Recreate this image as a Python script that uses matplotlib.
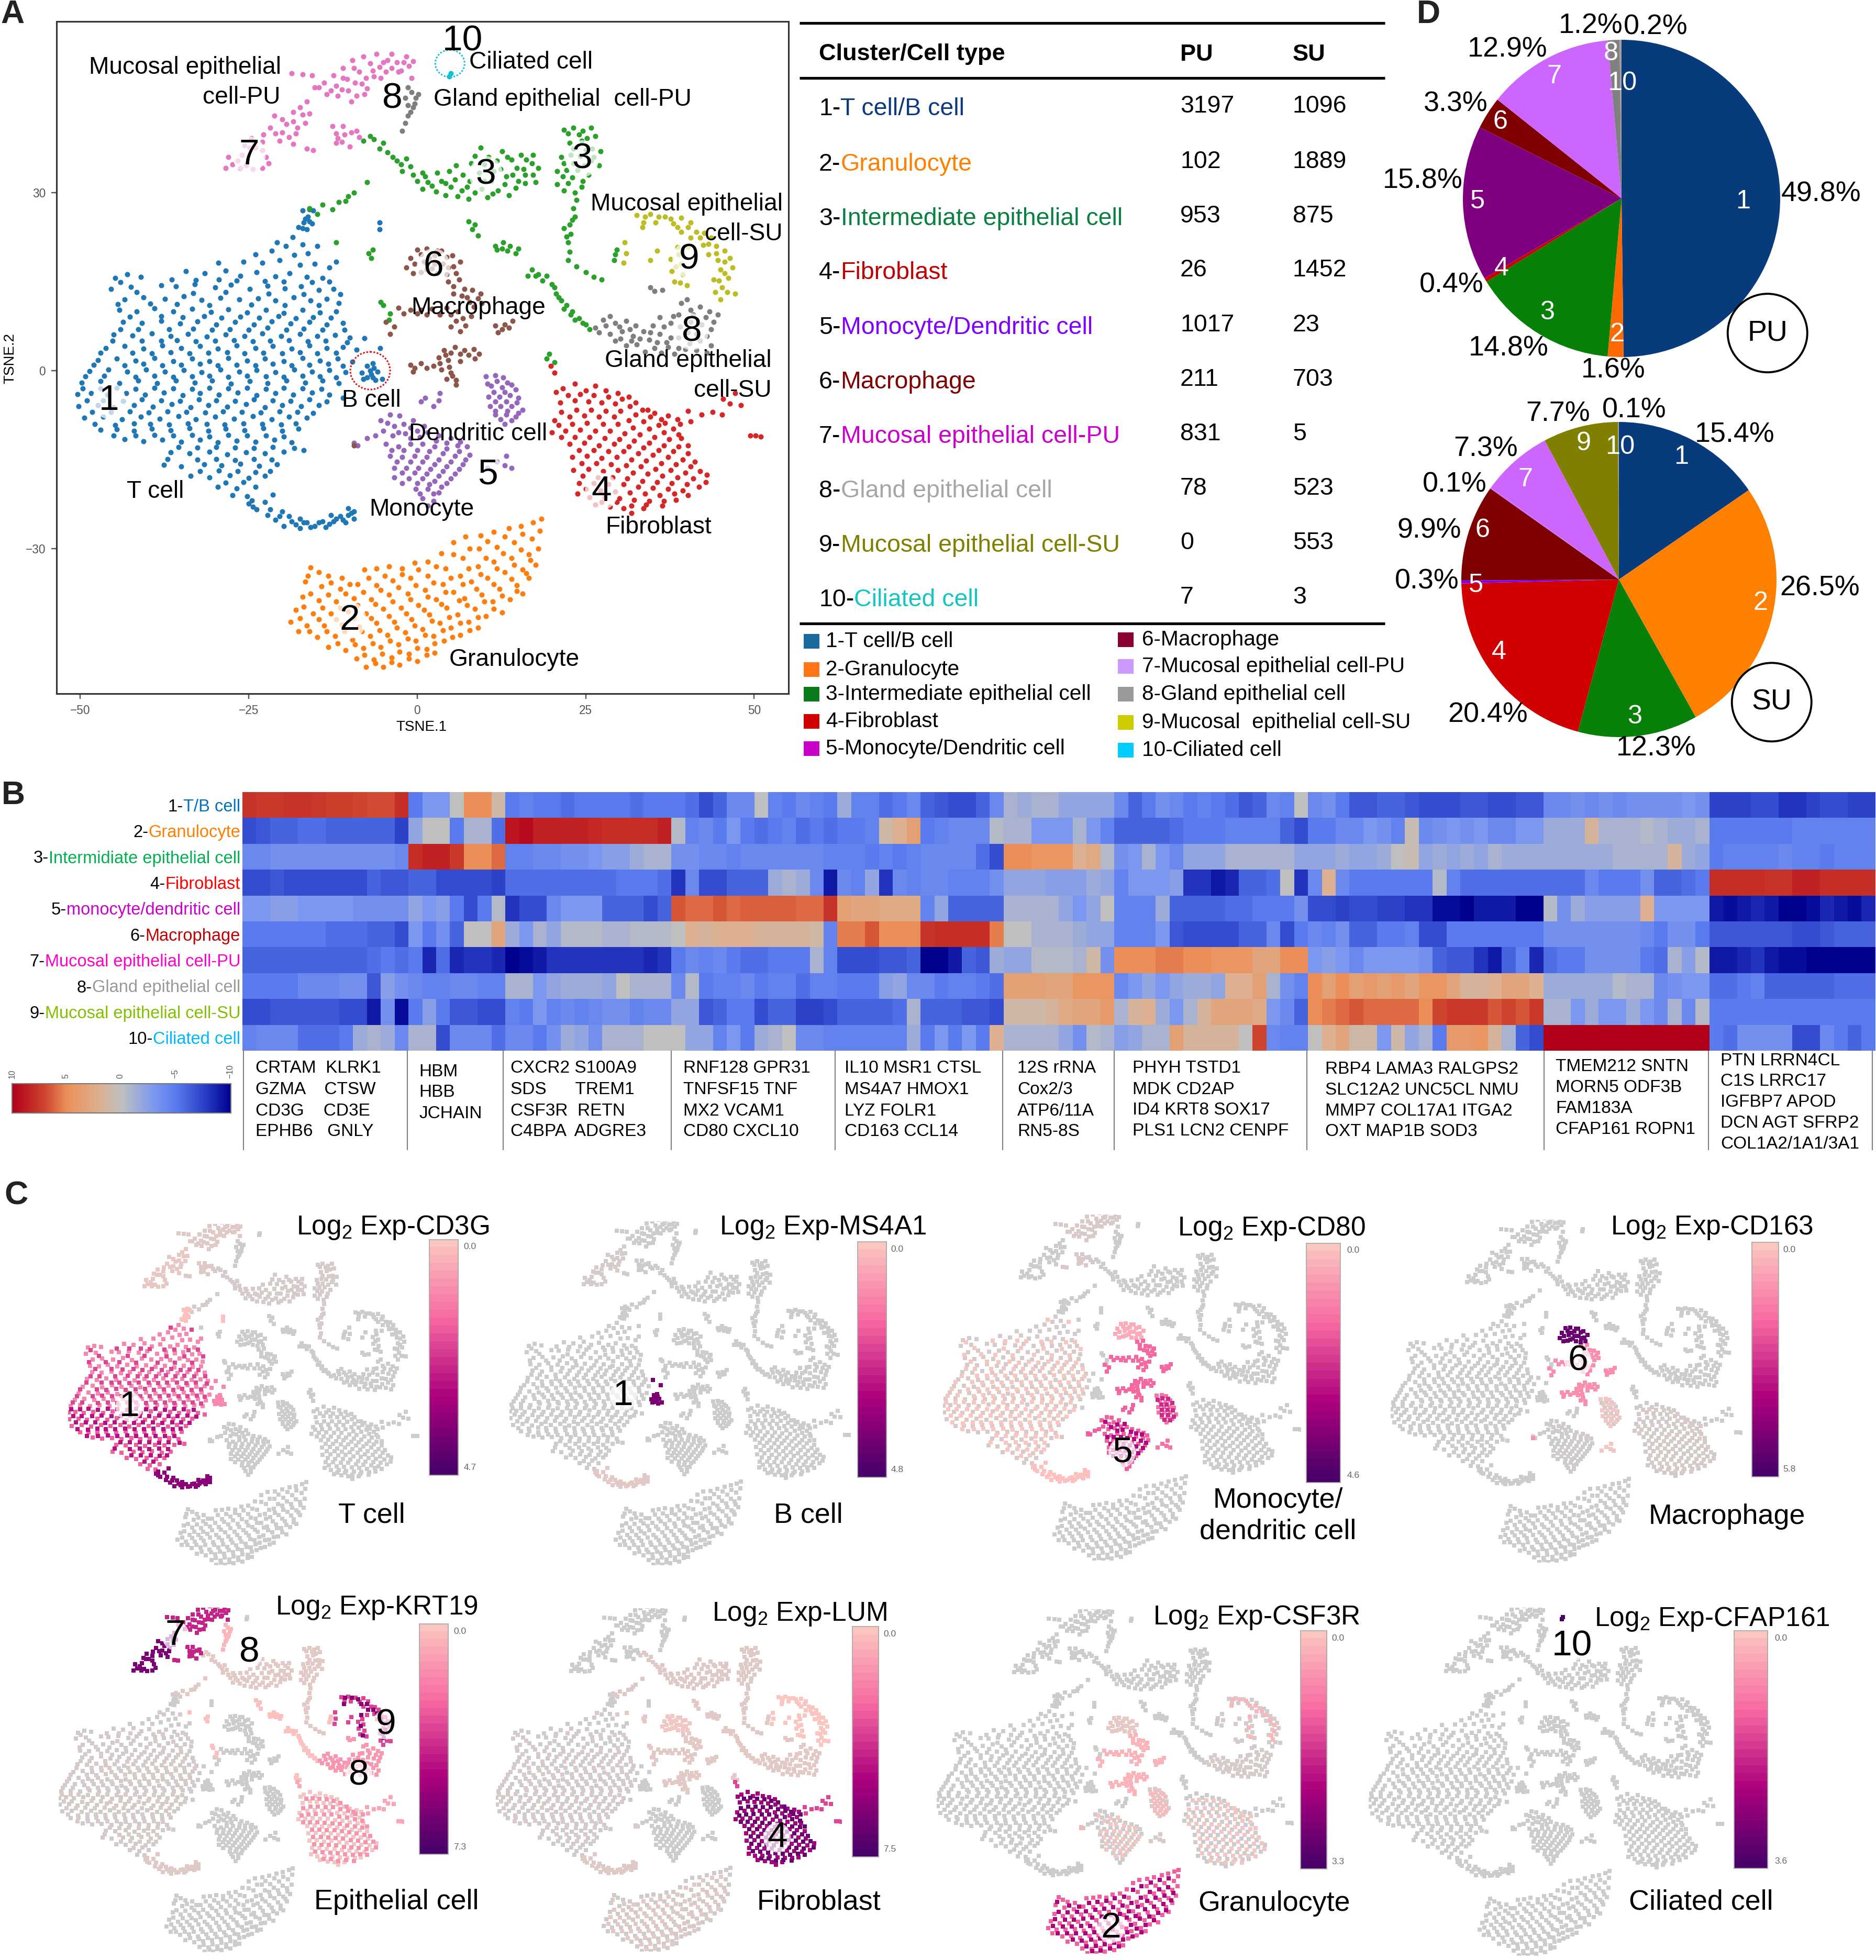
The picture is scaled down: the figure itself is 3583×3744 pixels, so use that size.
#!/usr/bin/env python
"""Single-cell atlas figure: t-SNE map, cell table, pies, marker heatmap, marker maps."""

import matplotlib

matplotlib.use("Agg")
import matplotlib.pyplot as plt
import numpy as np
from matplotlib.colors import LinearSegmentedColormap
from matplotlib.patches import Ellipse, Rectangle

plt.rcParams["font.family"] = ["Liberation Sans", "DejaVu Sans"]
plt.rcParams["mathtext.default"] = "regular"

W, H = 3583, 3744

# t-SNE points, one list per region
T_UPPER = [
    (-18.5, 22.5), (-19.5, 21), (-17, 21.3), (-21.6, 20.2), (-16.2, 19.8), (-18.2, 19.5), (-24, 19.6),
    (-29.5, 18.2), (-25.8, 18.4), (-23, 18.2), (-20.4, 18.6), (-17.4, 17.8), (-15.2, 18), (-13, 17.4), (-12, 18.4),
    (-44.8, 15.6), (-43, 16.2), (-41, 15.8), (-34.3, 16.8), (-31.5, 16.4), (-28.4, 16.9), (-26.2, 16), (-23.8, 16.6),
    (-21, 15.9), (-18.9, 16.4), (-16.4, 15.8), (-14, 15.6), (-45.4, 13.8), (-42.5, 14.1), (-38, 14.4), (-35.8, 14.2),
    (-33, 14.6), (-30, 14), (-27.6, 14.5), (-24.8, 13.8), (-22.2, 14.3), (-19.6, 13.9), (-17.2, 14.2), (-14.6, 13.6),
    (-12.4, 13.8), (-43.4, 12), (-40.6, 12.4), (-37.4, 12.1), (-34.6, 12.5), (-32, 11.9), (-29.2, 12.3), (-26.4, 12),
    (-23.6, 12.2), (-21, 11.8), (-18.3, 12.4), (-15.8, 11.8), (-13.4, 12.1), (-11.6, 11.4), (-44.2, 10.2), (-41.6, 10),
    (-39, 10.5), (-36.2, 10), (-33.4, 10.4), (-30.6, 9.9), (-28, 10.3), (-25.2, 9.8), (-22.4, 10.2), (-19.8, 9.7),
    (-17, 10.2), (-14.4, 9.8), (-12, 10), (-43.6, 8.2), (-40.8, 8), (-38, 8.4), (-35.2, 7.9), (-32.6, 8.3),
    (-29.8, 7.8), (-27, 8.2), (-24.2, 7.8), (-21.6, 8.3), (-18.8, 7.9), (-16, 8.2), (-13.4, 7.8), (-11, 8),
    (-45, 6.1), (-42.2, 5.9), (-39.4, 6.3), (-36.6, 5.8), (-34, 6.2), (-31.2, 5.7), (-28.4, 6.1), (-25.6, 5.8),
    (-23, 6.3), (-20.2, 5.8), (-17.4, 6.2), (-14.8, 5.8), (-12.2, 6), (-10, 5.6), (-46.2, 3.8), (-43.4, 4.1),
    (-40.6, 3.7), (-37.8, 4.2), (-35, 3.8), (-32.2, 4.1), (-29.6, 3.7), (-26.8, 4.2), (-24, 3.8), (-21.4, 4.1),
    (-18.6, 3.7), (-16, 4.2), (-13.4, 3.8), (-11, 4), (-9, 3.5), (-47.4, 1.8), (-44.6, 2), (-41.8, 1.7),
    (-39, 2.1), (-36.2, 1.6), (-33.4, 2), (-30.8, 1.6), (-28, 2.1), (-25.2, 1.7), (-22.6, 2), (-19.8, 1.6),
    (-17, 2.1), (-14.4, 1.7), (-11.8, 2), (-9.6, 1.5), (-48.6, -0.1), (-45.8, 0.2), (-43, -0.2), (-40.2, 0.2),
    (-37.4, -0.2), (-34.6, 0.1), (-32, -0.3), (-29.2, 0.2), (-26.4, -0.2), (-23.8, 0.1), (-21, -0.3), (-18.2, 0.2),
    (-15.6, -0.2), (-13, 0.1), (-10.6, -0.3), (-49.8, -2), (-47, -1.8), (-44.2, -2.1), (-41.4, -1.7), (-38.6, -2.1),
    (-35.8, -1.7), (-33, -2), (-30.4, -1.7), (-27.6, -2.2), (-24.8, -1.8), (-22.2, -2.1), (-19.4, -1.7), (-16.6, -2),
    (-14, -1.7), (-11.6, -2.1),
]
T_UPPER_FILL = [
    (-20.8, 21.6), (-14.8, 21), (-44, 14.9), (-41.6, 13.2), (-36.4, 15.4), (-32.8, 15.3), (-29.4, 15.4), (-26.8, 15.2),
    (-22.6, 15.1), (-19.8, 15), (-15.6, 14.9), (-13, 15), (-44.4, 11.2), (-39.6, 11.3), (-35.6, 11.2), (-33.2, 13.1),
    (-30.8, 11), (-28.4, 13.2), (-24.6, 11.1), (-22, 13), (-19.6, 11), (-16.8, 12.9), (-14.6, 11), (-11.4, 12.9),
    (-42.6, 9.1), (-38, 9.2), (-34.8, 9), (-31.6, 9.2), (-29, 8.9), (-26.2, 9.1), (-23.4, 8.9), (-20.6, 9.2), (-18, 8.8),
    (-15.4, 9), (-12.8, 8.9), (-44, 7), (-41.4, 7), (-36.8, 7), (-33.2, 7.1), (-30.4, 6.9), (-27.8, 7), (-25, 6.9),
    (-22.2, 7.2), (-19.4, 6.9), (-16.8, 7.1), (-14, 6.9), (-10.8, 6.9), (-45.2, 5), (-40.8, 5), (-38, 5), (-35.6, 5.1),
    (-32.8, 4.9), (-30, 5), (-27.2, 5.1), (-24.4, 4.9), (-21.8, 5), (-19, 5.1), (-16.2, 4.9), (-13.6, 5), (-10.4, 4.8),
    (-47, 3), (-42.2, 3), (-39.4, 2.9), (-36.6, 3.1), (-33.8, 2.9), (-31, 3), (-28.2, 3.1), (-25.6, 2.9), (-22.8, 3),
    (-20, 2.9), (-17.4, 3.1), (-14.8, 2.9), (-12, 3), (-48, 1), (-43.4, 0.9), (-40.6, 1.1), (-37.8, 0.9), (-35, 1),
    (-32.2, 1.1), (-29.6, 0.9), (-26.8, 1), (-24, 0.9), (-21.4, 1.1), (-18.6, 0.9), (-16, 1), (-13.2, 1.1), (-11, 0.8),
    (-49.2, -1), (-46.4, -0.9), (-41.8, -1.1), (-39, -0.9), (-36.2, -1.1), (-33.4, -1), (-30.8, -0.9), (-28, -1.1),
    (-25.2, -0.9), (-22.4, -1), (-19.8, -1.1), (-17, -0.9), (-14.4, -1), (-12, -1.2),
]
T_LOWER = [
    (-50.4, -4), (-48.4, -3.8), (-46, -4.1), (-43.2, -3.8), (-40.4, -4.1), (-37.6, -3.7), (-34.8, -4.2), (-32.2, -3.8),
    (-29.4, -4.1), (-26.6, -3.7), (-23.8, -4.2), (-21, -3.8), (-18.4, -4.1), (-15.6, -3.7), (-13, -4.1), (-11, -4.6),
    (-50.2, -6), (-47.4, -5.8), (-45, -6.2), (-42, -5.8), (-39.2, -6.1), (-36.4, -5.7), (-33.6, -6.2), (-31, -5.8),
    (-28.2, -6.1), (-25.4, -5.7), (-22.6, -6.2), (-20, -5.8), (-17.2, -6), (-14.6, -5.8), (-49.4, -8), (-46.6, -7.8),
    (-43.8, -8.2), (-41, -7.8), (-38.2, -8.1), (-35.4, -7.7), (-32.8, -8.2), (-30, -7.8), (-27.2, -8.1), (-24.4, -7.7),
    (-21.6, -8.2), (-19, -7.8), (-16.4, -8), (-47, -10), (-44.6, -9.9), (-42, -10.2), (-39.4, -9.8), (-36.6, -10.1),
    (-33.8, -9.7), (-31, -10.2), (-28.4, -9.8), (-25.6, -10.1), (-22.8, -9.7), (-20, -10.2), (-17.6, -9.8), (-43.4, -11.6),
    (-40.6, -11.9), (-37.8, -11.7), (-35, -12), (-32.2, -11.7), (-29.6, -12.1), (-26.8, -11.8), (-24, -12), (-21.2, -11.7),
    (-18.6, -12.1), (-36.6, -13.8), (-33.8, -14), (-30.8, -13.7), (-28.2, -14.1), (-25.4, -13.8), (-22.6, -14), (-19.8, -13.7),
    (-16.8, -13.4), (-37.6, -15.9), (-35, -16.2), (-31.6, -15.8), (-29, -16), (-26.2, -15.7), (-23.4, -16.1), (-20.8, -15.8),
    (-33.6, -17.8), (-30.8, -18), (-27.8, -17.7), (-25, -18.1), (-22.6, -17.8), (-29.6, -19.6), (-26.8, -19.9), (-24, -19.6),
    (-27.4, -21), (-25.2, -21.2),
]
T_LOWER_FILL = [
    (-49.6, -3), (-47, -3), (-44.6, -2.9), (-41.8, -3.1), (-39, -2.9), (-36.2, -3), (-33.4, -3.1), (-30.8, -2.9), (-28, -3),
    (-25.2, -2.9), (-22.4, -3.1), (-19.8, -2.9), (-17, -3), (-14.2, -3.1), (-49, -5), (-46.6, -5), (-43.6, -5.1), (-40.8, -4.9),
    (-38, -5), (-35.2, -5.1), (-32.4, -4.9), (-29.8, -5), (-27, -5.1), (-24.2, -4.9), (-21.4, -5), (-18.8, -5.1), (-16, -4.9),
    (-13.4, -5.2), (-48.2, -7), (-45.4, -7), (-42.6, -6.9), (-39.8, -7.1), (-37, -6.9), (-34.2, -7), (-31.4, -7.1), (-28.8, -6.9),
    (-26, -7), (-23.2, -7.1), (-20.4, -6.9), (-17.8, -7), (-15.4, -7.2), (-47.8, -9), (-44.8, -9.2), (-42, -8.9), (-39.6, -9),
    (-36.8, -9.1), (-34, -8.9), (-31.2, -9), (-28.6, -9.1), (-25.8, -8.9), (-23, -9), (-20.2, -9.1), (-18, -8.9), (-45, -11),
    (-41.8, -11), (-39, -10.9), (-36.2, -11), (-33.4, -10.9), (-30.8, -11.1), (-28, -10.9), (-25.2, -11), (-22.4, -11),
    (-19.8, -11.1), (-35.4, -12.9), (-32.6, -13), (-29.8, -12.9), (-27, -13), (-24.2, -13.1), (-21.4, -12.9), (-18.2, -13.1),
    (-37, -14.9), (-32.6, -15), (-29.8, -14.9), (-27, -15.1), (-24.2, -14.9), (-21.6, -15), (-32.2, -17), (-29.4, -16.9),
    (-26.6, -17), (-24, -17.1), (-21.8, -17), (-28.4, -18.9), (-25.8, -18.8),
]
T_TAIL = [
    (-25, -22.4), (-23.8, -23.4), (-22.6, -22.2), (-22.2, -24.4), (-21, -25.2), (-20, -23.8), (-19.8, -26.2), (-18.6, -25.4),
    (-17.4, -26.6), (-16.4, -25.6), (-15.2, -26.2), (-14, -25.4), (-13, -25.9), (-12, -25), (-11, -25.2), (-10.2, -24.4),
    (-9.4, -23.8), (-9.4, -25), (-17.4, -25), (-12.8, -24.4), (-24.5, -21.9), (-21.4, -20.9), (-24.4, -23), (-21.8, -23.4),
    (-20.4, -24.6), (-19, -24.6), (-18, -26), (-16.8, -25.6), (-15.8, -26.4), (-14.6, -25.6), (-13.6, -26.4), (-12.4, -25.4),
    (-11.4, -24.6), (-10.6, -25.6), (-9.8, -24), (-10.2, -23.2),
]
T_TOP = [
    (-17, 27), (-16.2, 26), (-15.4, 27), (-16.8, 25), (-17.6, 24.2), (-15.6, 24.8), (-16.4, 23.8), (-5.6, 25), (-5.6, 23.8),
    (-16.6, 25.6), (-16, 25.2), (-17, 24), (-16, 27.2),
]
B_CELL = [
    (-8.2, -0.4), (-7.4, 0.8), (-6.6, 1.2), (-6.8, -0.6), (-5.9, -0.2), (-7.4, -1.2), (-6.2, -1.6), (-5.2, -1.4), (-8, -1.4),
    (-5.5, 3.8), (-7.8, 5.5), (-7, 0), (-6.4, 0.4), (-6.6, -1.2),
]
GRAN = [
    (-15.8, -33.2), (-14.6, -34), (-13.2, -34.6), (-11.2, -35), (-7.8, -33.6), (-6, -33.4), (-4.2, -33), (-2.2, -33.4),
    (-0.4, -32.4), (1.6, -32.2), (3.6, -30.8), (5.4, -29), (7.2, -28), (9.4, -27.8), (11.4, -27.2), (13.6, -26.6),
    (15.4, -26.2), (17.2, -25.6), (18.4, -25), (-16.6, -35.6), (-14.2, -36.4), (-11.4, -36.8), (-8.8, -36), (-6, -36.2),
    (-3.6, -35.4), (-1, -35), (1.6, -34.6), (4.2, -33.4), (6.8, -31.6), (9.2, -30), (11.8, -29.8), (14.4, -29),
    (17, -28.4), (18.2, -27), (-17, -38.2), (-14.6, -38.8), (-12, -39), (-9.4, -38.4), (-6.8, -38.6), (-4.2, -37.8),
    (-1.4, -37.6), (1.2, -37), (3.8, -36), (6.4, -34.6), (9, -33), (11.4, -32.2), (14, -31.6), (16.6, -31),
    (18, -30), (-18, -40.4), (-15.4, -41), (-12.8, -41), (-10.2, -40.6), (-7.6, -41), (-5, -40.2), (-2.4, -40),
    (0.2, -39.6), (2.8, -38.6), (5.4, -37.4), (8, -35.6), (10.4, -35), (13, -34), (15.6, -33.6), (17.6, -32.8),
    (-18.8, -42.4), (-16.4, -43), (-13.8, -43), (-11.2, -42.8), (-8.6, -43.2), (-6, -42.6), (-3.4, -42.4), (-0.8, -42),
    (1.8, -41.2), (4.4, -40), (7, -38.4), (9.6, -37.8), (12.2, -36.8), (14.8, -36.2), (16.6, -35), (-17.6, -44),
    (-14.8, -45), (-12.2, -44.8), (-9.6, -45.4), (-7, -44.8), (-4.4, -44.6), (-1.8, -44.2), (0.8, -43.6), (3.4, -42.6),
    (6, -41.2), (8.6, -40.2), (11.2, -39), (13.8, -38.6), (15.6, -37.6), (-13.2, -46.6), (-10.6, -47.2), (-8, -46.8),
    (-5.4, -46.6), (-2.8, -46.2), (-0.2, -45.6), (2.4, -44.8), (5, -43.4), (7.6, -42.4), (10.2, -41.4), (12.6, -40.8),
    (-9, -48.6), (-6.4, -48.8), (-3.8, -48.4), (-1.2, -47.8), (1.4, -47), (4, -45.6), (6.4, -44.6), (9, -43.4),
    (-7.6, -50), (-5, -50), (-2.6, -49.6), (0, -49), (2.6, -47.6),
]
GRAN_FILL = [
    (-16.2, -34.6), (-12.8, -35.8), (-10, -36), (-7.2, -35), (-4.8, -34.6), (-2.2, -34.4), (0.2, -33.6), (2.8, -33), (5.4, -31),
    (7.8, -30), (10.4, -28.8), (13, -28), (15.6, -27.6), (-15.8, -37.6), (-13.2, -37.8), (-10.6, -37.6), (-8, -37.4), (-5.4, -37),
    (-2.8, -36.6), (-0.2, -36.2), (2.4, -35.8), (5, -35), (7.6, -33.4), (10.2, -31.6), (12.8, -30.8), (15.4, -30.2),
    (-16.8, -39.8), (-14, -40), (-11.4, -40), (-8.8, -39.6), (-6.2, -39.4), (-3.6, -39), (-1, -38.6), (1.6, -38.2), (4.2, -37.4),
    (6.8, -36), (9.4, -34.4), (11.8, -33.4), (14.4, -32.8), (16.8, -32), (-17.4, -41.8), (-14.6, -42), (-12, -42), (-9.4, -41.8),
    (-6.8, -41.8), (-4.2, -41.4), (-1.6, -41), (1, -40.4), (3.6, -39.4), (6.2, -38.8), (8.8, -36.8), (11.4, -36), (14, -35.2),
    (16.2, -34.2), (-16, -44), (-13.4, -44), (-10.8, -44), (-8.2, -44), (-5.6, -43.8), (-3, -43.4), (-0.4, -43), (2.2, -42.2),
    (4.8, -41.6), (7.4, -39.6), (10, -39), (12.6, -38), (14.8, -37.2), (-11.8, -46), (-9.2, -46.2), (-6.6, -46), (-4, -45.6),
    (-1.4, -45.2), (1.2, -44.6), (3.8, -43.8), (6.4, -42.6), (9, -41.6), (11.4, -40.2), (-7.8, -48), (-5.2, -47.8), (-2.6, -47.4),
    (0, -46.8), (2.6, -46), (5.2, -45), (7.8, -43.8), (-6.2, -49.4), (-3.8, -49.2), (-1.2, -48.6), (1.4, -48),
]
INTER_MAIN = [
    (-8, 38.8), (-6.4, 39), (-5, 38.4), (-4.4, 36.8), (-3, 35.4), (-1.6, 35.8), (-2.2, 33.6), (-0.6, 33), (0.8, 33.4),
    (1.6, 31.8), (0.8, 30.6), (2.8, 30.2), (3.6, 32), (4.8, 33.6), (5, 31), (6, 29.4), (6.8, 33), (7.4, 31), (7.6, 29),
    (8, 35), (9.2, 33.4), (9.6, 30.6), (9.4, 37.6), (10.6, 36), (11, 32), (11.2, 29.8), (12.4, 34), (12.6, 37), (13, 31.4),
    (14, 35.6), (14.2, 33), (14.6, 30.8), (15.4, 36.4), (15.8, 34), (16, 31.6), (17, 35), (17.2, 33), (-7.4, 31.8),
    (-16, 27.4), (-14.8, 26.4), (-14, 28), (-12.6, 27.2), (-11.6, 28.4), (-10.6, 28.6), (-10.2, 29.4), (-9.4, 30),
    (21.8, 40.6), (23.2, 41), (24.6, 40.4), (25.8, 41), (26.4, 39.6), (22.6, 38.4), (24.4, 38.8), (26, 37.4), (27.2, 37),
    (21.4, 36), (22.8, 36.4), (24.2, 36.2), (25.8, 35.4), (27, 34.6), (20.8, 33.6), (22.2, 33.8), (23.8, 33.8), (25.4, 33),
    (20.8, 31.4), (22.4, 31.6), (24.4, 31), (23.6, 28.8), (23.2, 27.4), (23.4, 26), (22.6, 24.6), (22.8, 23),
    (21.8, 24), (22.4, 21.6), (22.6, 20), (22.4, 18.6), (23.6, 17.6), (25, 16.6), (26.2, 15.8), (27.4, 15.4),
    (-7, 39.6), (-5.6, 37.4), (-3.6, 36), (-2.4, 34.8), (-1, 34.4), (0, 32), (1.2, 32.8), (2.2, 31.2), (3, 33.4), (4.2, 31.6),
    (4.2, 29.6), (5.6, 32.2), (5.8, 34.6), (6.6, 30.4), (7.8, 32), (8.6, 30), (8.6, 36.2), (10, 34.8), (10, 32), (10.4, 29.2),
    (11.4, 33.6), (11.8, 35.4), (12, 30.4), (13.2, 32.8), (13.4, 36), (13.6, 29.6), (14.8, 34.2), (15, 32), (16, 33), (16.2, 35.6),
    (17.2, 36.4), (18, 34.2), (17.6, 31.8), (22.4, 40), (24, 39.8), (25.2, 39.2), (23.2, 37.4), (25, 37.2), (21.8, 35), (23.2, 35),
    (24.8, 34.6), (26.2, 36), (21.6, 32.8), (23, 32.6), (24.6, 32), (21.8, 30.4), (23.4, 30), (23, 25.4), (22.2, 22.6),
]
INTER_LOW = [
    (7.6, 25.2), (8.2, 23.8), (9, 22.8), (11.6, 21), (12.6, 20.6), (13.4, 20.2), (14.6, 19.8), (12.8, 21.6),
    (17, 17), (16.4, 16), (18, 16.2), (19.2, 16), (20, 14.6), (20.6, 13), (21.4, 11.8), (21.8, 10.4), (23, 10),
    (23.4, 8.6), (24.6, 8), (25.6, 7), (19.6, 2.8), (19.2, 2), (20.4, 1.4), (29.6, 20.4), (29.2, 18.6), (29.4, 19.6),
    (-6.6, 20.4), (-6.8, 19), (-7.2, 19.8), (-12, 21.6), (-5, 11), (-4, 9.6), (-4.2, 8.6), (-5.4, 11.6),
    (8.6, 24.6), (11.8, 20.4), (13.8, 21), (15, 20.6), (17.6, 16), (18.6, 15.2), (20.4, 14), (21, 12.4), (22.2, 11), (22.8, 9.4),
    (24, 8.8), (25, 7.8),
]
FIBRO = [
    (20.6, -3.6), (21.6, -3), (23.4, -2.2), (25, -3.4), (26.4, -2.6), (28, -3.4), (29.8, -3.8), (31.4, -4.4), (21.2, -5.4),
    (23.4, -5), (25.4, -5.2), (27.4, -5.4), (29.4, -5.6), (31.6, -6), (33.4, -6.6), (35.2, -7.2), (37.2, -7.6), (38.6, -8.2),
    (20.4, -8.4), (22.6, -7.8), (24.8, -7.6), (27, -7.8), (29.2, -7.8), (31.4, -8.4), (33.6, -8.6), (35.8, -9.2), (38, -9.8),
    (20, -10.4), (22, -10.2), (24.2, -10), (26.4, -10.2), (28.6, -10.2), (30.8, -10.6), (33, -10.8), (35.2, -11.2), (37.4, -11.6),
    (39.2, -11.4), (22.6, -12.4), (24.8, -12.2), (27, -12.6), (29.2, -12.4), (31.4, -12.8), (33.6, -13), (35.8, -13.4), (38, -13.6),
    (40.2, -14), (23, -14.6), (25.2, -14.4), (27.4, -14.8), (29.6, -14.6), (31.8, -15), (34, -15.2), (36.2, -15.6), (38.4, -15.8),
    (40.6, -16.2), (23.2, -16.8), (25.4, -16.6), (27.6, -17), (29.8, -16.8), (32, -17.2), (34.2, -17.4), (36.4, -17.8), (38.6, -18),
    (41, -18.2), (43, -17.6), (24, -19), (26.2, -19), (28.4, -19.2), (30.6, -19.2), (32.8, -19.6), (35, -19.8), (37.2, -20),
    (39.4, -20.2), (41.8, -19.6), (23.8, -20.8), (25.6, -21.4), (27.8, -21.4), (30, -21.6), (32.2, -21.8), (34.4, -22), (36.6, -22),
    (38.4, -21.8), (26.4, -22.6), (28.6, -23), (30.6, -23.2), (31.8, -24), (33.6, -23.2),
]
FIBRO_FILL = [
    (22.4, -4.2), (24.2, -4), (26.2, -4.2), (28.4, -4.4), (30.4, -4.8), (32.4, -5.4), (34.2, -6.6), (36.2, -8.2), (21.4, -7),
    (23.6, -6.6), (25.8, -6.6), (28, -6.8), (30.2, -6.8), (32.4, -7.4), (34.6, -7.8), (36.8, -8.8), (39, -9), (21, -9.2), (23, -9),
    (25.2, -8.8), (27.6, -9), (29.8, -9), (32, -9.6), (34.4, -9.8), (36.6, -10.4), (38.8, -10.8), (21.4, -11.2), (23.4, -11.2),
    (25.6, -11.2), (27.8, -11.4), (30, -11.6), (32.2, -11.8), (34.4, -12.2), (36.6, -12.6), (38.8, -12.8), (40.2, -12.6), (24, -13.4),
    (26.2, -13.4), (28.4, -13.6), (30.6, -13.6), (32.8, -14), (35, -14.2), (37.2, -14.6), (39.4, -15), (41.2, -15.4), (24.4, -15.6),
    (26.6, -15.6), (28.8, -15.8), (31, -16), (33.2, -16.2), (35.4, -16.6), (37.6, -16.8), (39.8, -17.2), (42, -17), (24.6, -17.8),
    (26.8, -18), (29, -18), (31.2, -18.2), (33.4, -18.6), (35.6, -18.8), (37.8, -19), (40, -19.2), (42.8, -18.8), (25, -20),
    (27.2, -20.2), (29.4, -20.4), (31.6, -20.6), (33.8, -20.8), (36, -21), (38.2, -20.8), (40.2, -21), (27.4, -22.2), (29.6, -22.2),
    (31.8, -22.8), (34, -22.6), (36.4, -22.8),
]
FIBRO_TAIL = [
    (19.8, 0.8), (20.4, -0.4), (40.2, -6.8), (40.6, -8.6), (42.2, -7.4), (43.8, -7), (45.4, -4.8), (46.4, -5.6), (45.2, -7.4),
    (47.2, -3.8), (48, -5.8), (49.4, -11), (50.2, -11), (51, -11.1),
]
MONO = [
    (-8.8, -12.6), (-9.4, -12.2), (-7.4, -11.4), (-6.2, -11), (-5, -10.2), (-5.4, -8.4), (-4, -7.4), (-2.6, -7.6), (-3.4, -9.4),
    (-2, -9), (-0.6, -8.4), (-3.6, -11), (-1.8, -10.6), (0, -10.2), (1.6, -10.4), (3.2, -11), (5, -11.4), (6.4, -12), (7.4, -12.8),
    (-4.6, -12.4), (-2.8, -12.8), (-1, -12.4), (0.8, -12.4), (2.6, -12.8), (4.4, -13.2), (6.2, -13.6), (7.8, -14.2), (-4, -14.4),
    (-2.2, -14.6), (-0.4, -14.4), (1.4, -14.6), (3.2, -15), (5, -15.4), (6.8, -15.8), (-3.4, -16.4), (-1.6, -16.4), (0.2, -16.4),
    (2, -16.6), (3.8, -17), (5.6, -17.4), (-3.4, -18), (-1.2, -18.2), (0.8, -18.2), (2.6, -18.6), (4.4, -19), (-0.2, -20), (1.6, -20),
    (3.2, -20.6), (0.8, -21.6), (2.4, -22), (1.6, -22.8), (3.4, -3.8), (3.2, -5), (2.4, -6), (1.2, -4.6), (0.6, -5.2),
]
MONO_FILL = [
    (-4.4, -8.8), (-2.8, -10.4), (-1, -9.6), (1, -9.4), (-3.8, -13.4), (-2, -13.4), (0, -13.4), (1.8, -13.6), (3.8, -14), (5.6, -14.4),
    (7.2, -15), (-3, -15.4), (-1, -15.4), (0.8, -15.4), (2.6, -15.8), (4.4, -16.2), (6.2, -16.6), (-2.2, -17.2), (-0.4, -17.2),
    (1.4, -17.4), (3.2, -17.8), (5, -18.2), (-2.2, -19), (0, -19), (1.8, -19.2), (3.6, -19.6), (0.4, -20.8), (2.4, -20.8), (2.8, -11.8),
    (0.4, -11.2), (-1, -11.4), (4.4, -12.2), (6, -12.6),
]
DC = [
    (10.2, -1), (11.6, -0.8), (12.8, -1.2), (11, -2.6), (12.6, -2.8), (14, -2.4), (10.6, -4.4), (12.2, -4.4), (13.8, -4.2),
    (15, -4.6), (10.8, -6), (12.4, -6), (14, -6), (15.6, -6.6), (11.6, -7.4), (13.2, -7.4), (14.6, -7.8), (13, -9),
    (10.4, -16.4), (11.8, -15.4), (13, -16), (14, -16.4), (13.2, -14.4),
]
DC_FILL = [
    (10.4, -2.2), (11.8, -1.8), (13.4, -2), (11.4, -3.6), (13, -3.6), (14.6, -3.2), (11.6, -5.2), (13.2, -5.2), (14.8, -5.4),
    (11.6, -6.8), (13.4, -6.8), (15, -7.2), (12.4, -8.2), (14, -8.4),
]
MAC_TOP = [
    (-1.6, 17.4), (-1, 19), (0, 20.4), (1, 18.4), (1.4, 20.6), (0.6, 16.6), (2.6, 19.4), (2.2, 17.2), (3.6, 20.2), (3.8, 18),
    (5.2, 19.4), (5.4, 17.6), (6.4, 18.4), (4.4, 16.2), (-0.4, 18), (0.6, 19.6), (1.8, 19), (2.6, 18), (3, 20.2), (4.4, 19.2),
    (4.6, 17.4), (1.4, 17), (3, 16.4), (5.8, 16.4), (-0.6, 16.4),
]
MAC_LOW = [
    (4.6, 15), (6.2, 15.4), (7, 13.8), (5.4, 13), (8.2, 13.6), (9.4, 13), (7.4, 12.4), (9.6, 11.4), (8.4, 10.8), (-2.8, 10.6),
    (-1, 10.2), (0.6, 10.2), (2.2, 10.4), (4.4, 10.6), (6, 10), (8, 9.2), (5.8, 8.4), (7.2, 7.6), (-4.6, 8.2), (-3.4, 7.4), (-4, 6.2),
    (11.6, 7.6), (13, 7.8), (14.2, 8.4), (12, 6.4), (4, 3.4), (5.6, 4), (7, 3.4), (8.4, 3.6), (3.2, 2.2), (4.6, 1.8), (6.4, 1.6),
    (8.6, 2), (9.2, 2.8), (-1, 1), (0.6, 1.2), (2.4, 0.8), (-0.6, -0.2), (3.6, 0.2), (5, -0.4), (4.4, -1.4), (5.8, -1.6), (5.8, -2.4),
    (-9.4, -12.6), (5.4, 14.2), (6.6, 12.6), (7.8, 11.6), (9, 12.2), (-2, 9.6), (0, 9.6), (1.4, 9.4), (3.4, 9.4), (5, 9.4), (6.8, 8.8),
    (5, 7.4), (6.4, 6.6), (12.6, 7), (13.6, 7.2), (5, 3), (6.4, 2.8), (7.6, 2.6), (4.2, 2.6), (-0.4, 0.4), (1.4, 0.4), (3.4, 1.2),
    (4.8, 0.6), (5.2, -0.9),
]
MUC_UP = [
    (-18.6, 50.2), (-17, 50), (-15.6, 49.8), (-15.2, 47.8), (-13.8, 48.6), (-13.4, 46.6), (-12.4, 49.8), (-12, 48), (-11.8, 46.4),
    (-11, 51), (-10.4, 49.2), (-10.2, 47.2), (-9.8, 45.4), (-9.6, 52.4), (-8.6, 50.4), (-8.2, 48.4), (-7.8, 46.6), (-8, 53), (-7, 51.8),
    (-6.4, 49.6), (-6, 53.4), (-5, 52), (-4.6, 50.4), (-3.8, 53.4), (-3, 52), (-2.4, 50.6), (-1.6, 53), (-1.2, 51.4), (-0.8, 49.4),
    (-0.6, 52.2), (-12, 38.4), (-12, 40), (-12.6, 41.2), (-11, 41.2), (-11.2, 38.6), (-9.8, 40.2), (-9, 40.4), (-8.6, 39.4), (-16.4, 37.4),
    (-15.4, 37.2), (-10, 37.8), (-14.6, 47.8), (-12.8, 47.2), (-11.2, 47.4), (-11, 49.4), (-9.2, 48.6), (-9, 46.4), (-9.4, 51),
    (-7.6, 49.4), (-7.4, 47.6), (-6.6, 50.6), (-5.6, 51.2), (-5.4, 49.4), (-4.4, 52.4), (-3.8, 51), (-2.8, 50.4), (-2, 52),
    (-10.8, 39.8), (-11.8, 39.2),
]
MUC_LOW = [
    (-16.4, 45.4), (-17.4, 44.4), (-16, 43.4), (-18.4, 43.6), (-16.6, 41.8), (-18.4, 42), (-20, 42.4), (-21.2, 43), (-21.8, 41),
    (-20, 40.2), (-18, 40), (-18.4, 38.2), (-20.4, 38.8), (-22.8, 39.8), (-24.6, 39.2), (-25.6, 38), (-24, 37.6), (-26, 36.4),
    (-28, 36), (-27.4, 34.8), (-28.4, 34.2), (-26.2, 34.2), (-24.4, 34), (-23, 34.2), (-22, 35), (-23, 37.2), (-17, 43.2),
    (-17.8, 41), (-19.4, 41.6), (-19, 39.4), (-21, 40), (-23, 38.6), (-24.8, 37.6), (-26.6, 35.4), (-22.4, 36), (-25.4, 34.6),
]
GLAND_PU = [
    (-1.4, 47.8), (-1.8, 46), (-0.8, 47), (-0.4, 45), (-1, 43.6), (-1.8, 41.8), (-2.2, 40.4), (0.2, 46.6), (-0.6, 44.4),
    (-1.4, 44.8), (-0.2, 46), (-1.4, 43),
]
GLAND_SU = [
    (26.4, 7.2), (27.6, 8.6), (28.6, 9.2), (29.4, 8), (31, 8.4), (32.4, 7.6), (27, 6.4), (28.6, 6.2), (30.4, 6.6), (32, 5.8),
    (33.6, 6.6), (35, 7.6), (36, 9), (38, 9.2), (39.2, 11.4), (40, 12), (40.6, 10.2), (42, 10.8), (43.4, 10), (44.6, 9.4),
    (29.4, 5), (31, 4.2), (32.6, 4.4), (34.4, 5.2), (36, 6.2), (37.6, 5.6), (39, 7.4), (40.6, 8.2), (42.2, 7.8), (43.6, 7),
    (33.8, 3.2), (35.2, 3.8), (37.2, 4), (38.8, 3.8), (40.4, 4.6), (42, 5), (43.6, 4.2), (34.6, 14), (35.2, 13.4), (36.4, 13.6),
    (28, 7.6), (30, 7.4), (31.6, 7), (33, 5.4), (34.6, 6.4), (36.6, 7.4), (37.6, 8), (38.8, 9.4), (41, 9.4), (42.8, 9), (44, 8.2),
    (30.2, 5.4), (31.8, 5), (35.6, 4.8), (37, 4.8), (38.8, 5.6), (40.2, 6.4), (41.4, 6.2), (43, 5.8), (36.2, 3), (38.2, 2.8),
    (39.8, 3.6), (41.4, 3.4), (43, 3),
]
MUC_SU = [
    (32.6, 26.2), (33.6, 25), (34.6, 26.4), (35.4, 25), (36.8, 26), (38, 24.8), (39.2, 25.8), (40.6, 25), (41.4, 23.4),
    (39.2, 23.4), (42.6, 23.2), (43.6, 22.4), (42.4, 21.2), (44.4, 21), (45.6, 20.2), (43.2, 19.6), (46.4, 19), (44.6, 18.6),
    (46.8, 17.4), (45, 17), (46.2, 15.6), (44, 15.4), (37.6, 18.8), (38.8, 19.6), (39.2, 18), (37.8, 16.8), (39.4, 16.2), (38.2, 15),
    (40, 14.4), (40.2, 20.8), (35.6, 20.2), (34.6, 18.6), (30.8, 21.6), (31, 19.8), (30.6, 18.2), (46, 13.2), (45, 12), (47.2, 13),
    (44.2, 13.2),
]
MUC_SU_FILL = [
    (33.8, 26), (35.8, 26), (37.6, 25.6), (38.6, 24.2), (40.2, 24.2), (42, 22.4), (43.2, 21.4), (44.4, 19.8), (45.6, 18.4), (45.6, 16.4),
    (44.8, 15.2), (45.2, 14), (38.4, 17.6), (39, 14.8), (38.6, 20.8), (40.6, 22.4), (33.4, 24.2),
]
CILIATED = [(5, 50.2), (4.8, 49.6)]

REGIONS = {
    "t_up": T_UPPER, "t_up2": T_UPPER_FILL, "t_low": T_LOWER, "t_low2": T_LOWER_FILL, "t_tail": T_TAIL, "t_top": T_TOP,
    "b": B_CELL, "gran": GRAN, "gran2": GRAN_FILL, "inter": INTER_MAIN, "inter_low": INTER_LOW, "fibro": FIBRO,
    "fibro2": FIBRO_FILL, "fibro_tail": FIBRO_TAIL, "mono": MONO, "mono2": MONO_FILL, "dc": DC, "dc2": DC_FILL,
    "mac_top": MAC_TOP, "mac_low": MAC_LOW, "muc_up": MUC_UP, "muc_low": MUC_LOW, "gland_pu": GLAND_PU,
    "gland_su": GLAND_SU, "muc_su": MUC_SU, "muc_su2": MUC_SU_FILL, "cil": CILIATED,
}
REGION_COLORS = {
    "t_up": "#1f77b4", "t_up2": "#1f77b4", "t_low": "#1f77b4", "t_low2": "#1f77b4", "t_tail": "#1f77b4", "t_top": "#1f77b4",
    "b": "#1f77b4", "gran": "#ff7f0e", "gran2": "#ff7f0e", "inter": "#2ca02c", "inter_low": "#2ca02c", "fibro": "#d62728",
    "fibro2": "#d62728", "fibro_tail": "#d62728", "mono": "#9467bd", "mono2": "#9467bd", "dc": "#9467bd", "dc2": "#9467bd",
    "mac_top": "#8c564b", "mac_low": "#8c564b", "muc_up": "#e377c2", "muc_low": "#e377c2", "gland_pu": "#7f7f7f",
    "gland_su": "#7f7f7f", "muc_su": "#bcbd22", "muc_su2": "#bcbd22", "cil": "#17becf",
}

# panel A / table
CELL_TYPES = ["T cell/B cell", "Granulocyte", "Intermediate epithelial cell", "Fibroblast", "Monocyte/Dendritic cell",
              "Macrophage", "Mucosal epithelial cell-PU", "Gland epithelial cell", "Mucosal epithelial cell-SU",
              "Ciliated cell"]
PU_COUNTS = [3197, 102, 953, 26, 1017, 211, 831, 78, 0, 7]
SU_COUNTS = [1096, 1889, 875, 1452, 23, 703, 5, 523, 553, 3]
TABLE_COLORS = ["#0b3a80", "#ff8000", "#0a8040", "#c00000", "#7f00ff", "#7f0000", "#cc00cc", "#a6a6a6", "#7f7f00",
                "#17c4c4"]
LEGEND_LEFT = ["1-T cell/B cell", "2-Granulocyte", "3-Intermediate epithelial cell", "4-Fibroblast",
               "5-Monocyte/Dendritic cell"]
LEGEND_RIGHT = ["6-Macrophage", "7-Mucosal epithelial cell-PU", "8-Gland epithelial cell",
                "9-Mucosal  epithelial cell-SU", "10-Ciliated cell"]
LEGEND_LEFT_COLORS = ["#1a6a9f", "#ff7518", "#0a7a1a", "#d00000", "#c800c8"]
LEGEND_RIGHT_COLORS = ["#8b0033", "#cc99ff", "#999999", "#cccc00", "#00ccff"]

# pies
PU_SHARE = [49.8, 1.6, 14.8, 0.4, 15.8, 3.3, 12.9, 1.2, 0.2]
PU_COLORS = ["#073b7c", "#ff6a00", "#078007", "#c80000", "#7f007f", "#7f0000", "#cc66ff", "#808080", "#a0a0a0"]
PU_PCT = ["49.8%", "1.6%", "14.8%", "0.4%", "15.8%", "3.3%", "12.9%", "1.2%", "0.2%"]
PU_NUM = ["1", "2", "3", "4", "5", "6", "7", "8", "10"]
SU_SHARE = [15.4, 26.5, 12.3, 20.4, 0.3, 9.9, 0.1, 7.3, 7.7, 0.1]
SU_COLORS = ["#073b7c", "#ff8000", "#078007", "#d00000", "#7f00ff", "#7f0000", "#cc66ff", "#cc66ff", "#808000", "#a0a0a0"]
SU_PCT = ["15.4%", "26.5%", "12.3%", "20.4%", "0.3%", "9.9%", "0.1%", "7.3%", "7.7%", "0.1%"]
SU_NUM = ["1", "2", "3", "4", "5", "6", "7", "9", "10"]

# heatmap, one list per marker block for each row
HEAT_ROWS = [
    [[7.8, 7.5, 7.5, 7.8, 7.8, 7.5, 7.3, 7.3, 7, 6.8, 6.8, 8], [-5, -3, -3, 0, 5, 5, 1],
     [-5, -4.5, -5, -5, -5.5, -5, -5, -5, -5, -5.5, -5, -5], [-5, -5.5, -7, -6, -4, -4, 0, -4.5, -5, -4, -4.5, -5],
     [-1.5, -4.5, -4.5, -5.5, -5, -4, -6, -6.5, -7, -7, -6, -4], [-1, -1.5, -1, -1, -2, -2, -2, -2],
     [-4, -6, -5, -3.5, -4, -5, -4.5, -5, -5.5, -6.5, -6, -4, -4.5, 0],
     [-4, -3.5, -5, -6.5, -6.5, -6, -6, -6.5, -7, -7, -7, -6.5, -6.5, -7, -7, -6.5, -6.5],
     [-4, -4, -3.5, -4, -3.5, -4, -3.5, -3.5, -3.5, -3.5, -3, -3.5], [-7.5, -7.5, -7.5, -7, -7, -8, -8, -7.5, -7, -7, -7.5, -7.5]],
    [[-7, -6.5, -6, -6, -5.5, -5.5, -6, -6, -6, -6, -6, -7.5], [-2, 0, 0, -5, -1, -1, -5.5],
     [9, 9.5, 8.5, 8.5, 8.5, 8.5, 8.2, 8, 8, 8, 8, 8.5], [-0.5, -4.5, -4, -5, -3, -5, -5.5, -5, -4.5, -5.5, -5, -5.5],
     [-5, -5, -4.5, 1, 2, 3.5, -5, -4.5, -4, -4, -4, -0.5], [-1, -1, -3, -3, -3, -1, -3, -4.5],
     [-6, -6, -6, -6, -5.5, -5, -5, -5, -4.5, -4.5, -4.5, -4.5, -6, -7],
     [-5, -5, -4, -4, -3, -3.5, -4.5, 0.5, -4, -3.5, -3, -3.5, -3, -4, -4, -3, -3],
     [-1.5, -1.5, -1.5, 1.5, -1, -1, -1, -0.5, -1, -1.5, -1.5, -1], [-5, -5, -5, -5, -5, -5, -4.5, -4.5, -4.5, -4.5, -4.5, -4.5]],
    [[-4, -4, -3.5, -3.5, -3.5, -3.5, -3.5, -3.5, -3.5, -3.5, -3.5, -4], [8, 8.5, 8.5, 7.5, 5, 5, 6],
     [-4.5, -4.5, -4, -4, -3.5, -3.5, -3, -2.5, -2.5, -1.5, -1, -1], [-3.5, -3.5, -4, -4, -4.5, -4, -4, -4, -4, -4, -4, -4.5],
     [-4.5, -4.5, -5, -4.5, -5, -4.5, -4, -4, -4, -4, -5.5, -7], [5, 5, 4.5, 4.5, 4.5, 2, 2.5, -0.5],
     [-3.5, -3, -1, -3, -4, -2, -2, -2, -1, -1, -1, -1, -1, -2],
     [-2, -2, -1.5, -2, -2, -1.5, 0, 0.5, -2, -1.5, -2, -1.5, -2, -1, -1.5, -1.5, -1.5],
     [-1.5, -1.5, -1.5, -1.5, -1.5, -1, -1, -1, -1, 1.5, -1.5, -2], [-5, -4.5, -4.5, -4.5, -4.5, -4, -4.5, -4.5, -5, -4.5, -4.5, -4.5]],
    [[-7, -7, -6.5, -7, -7, -7, -7, -7, -7, -6, -6.5, -6.5], [-6, -6, -7, -7, -7, -7, -7.5],
     [-5.5, -5.5, -5.5, -5.5, -5.5, -5.5, -5.5, -5.5, -5, -5, -5, -5.5], [-8, -4, -7, -7, -6, -6, -6, -1.5, -1, -1.5, -4, -9],
     [-4, -4.5, -2, -8, -4, -4.5, -4, -4, -4.5, -4.5, -4.5, -3.5], [-2, -2, -2, -2.5, -2.5, -2.5, -1.5, -2],
     [-4.5, -3, -3, -3, -2.5, -8, -8, -9, -8.5, -6, -6, -5.5, 0, -8],
     [-4, 2, -4, -5, -5, -5, -5, -5, -5, -0.5, -4.5, -5.5, -5.5, -5.5, -5.5, -5.5, -5.5],
     [-5.5, -5.5, -5.5, -4, -5, -5, -5, -3.5, -6, -6, -5.5, -5], [8, 8, 8, 8, 7.8, 7.8, 8.5, 8.5, 8, 8, 8, 8]],
    [[-3, -3, -2.5, -2.5, -3, -3, -3, -3, -3.5, -3.5, -3.5, -3.5], [-2, -3, -2.5, -5, -7, -5, -0.5],
     [-8, -7, -7, -4, -3, -3, -3, -6, -6, -6, -7, -6], [6.5, 6, 6, 6.5, 6, 6.3, 6.3, 6.3, 6.3, 6, 6, 7.8],
     [3.5, 3, 3, 2.5, 2.5, 2.5, -4.5, -2, -6, -6, -6, -6], [-1, -1, -1, -1, -2, -3, -2, 0],
     [-4.5, -4.5, -4.5, -1.5, -6, -6, -6, -6, -5.5, -5.5, -5, -5, -5, -3.5],
     [-7, -7, -7.5, -7, -7, -7.5, -7.5, -8, -8, -9.5, -9.5, -10, -9, -9, -9, -10, -10],
     [-0.5, -3.5, -1.5, -2.5, -2.5, -2.5, -2.5, 2, -3, -3, -3, -3], [-9, -9.5, -9, -8.5, -9, -10, -10, -9.5, -8.5, -9, -9.5, -8.5]],
    [[-5, -5, -5, -5, -5, -5, -5.5, -5.5, -5.5, -6, -6, -7], [-3, -5, -3.5, -6, 0, 0, 3],
     [-1.5, -3, -1, -2, -0.5, -0.5, -0.5, -1, -1, -0.5, -0.5, -0.5], [0, 2, 1.5, 2, 2, 2, 1.5, 1.5, 1.5, 1.5, 1, -4.5],
     [5.5, 5.5, 6.5, 5, 5, 5, 7.8, 8, 8, 8, 8, 5.5], [0, 0, -1, -1, -1, -1.5, -2, -2],
     [-4.5, -4.5, -4.5, -3, -6.5, -7, -7, -7, -7, -6, -6, -4, -7, -5],
     [-4, -4.5, -3.5, -6, -6, -5, -5, -4.5, -7, -7, -5, -5, -5, -5, -5, -5, -5],
     [-3.5, -3.5, -3.5, -3.5, -3.5, -3.5, -3.5, -4, -5, -3.5, -3.5, -5], [-6.5, -6.5, -6.5, -6.5, -6.5, -6.5, -7, -7, -6.5, -6, -6, -6]],
    [[-6, -6, -6, -6, -6, -6, -6, -6, -6, -5.5, -5, -5.5], [-5, -8.5, -5.5, -8.5, -8, -8, -8.5],
     [-10, -9.5, -9, -8, -8, -8, -8, -8, -8, -8, -8.5, -8], [-5, -4, -4.5, -4, -5, -5.5, -5.5, -5, -5, -5, -1, -4.5],
     [-7, -7, -7, -6.5, -6.5, -6, -10, -10, -9, -6, -6.5, -1.5], [-2, -2, -0.5, -0.5, -0.5, -1, 1, -3.5],
     [5, 5, 5, 5.5, 5.5, 5, 5, 4.5, 4.5, 4.5, 3, 3, 5, 5],
     [-3, -2.5, -3, -4, -3, -3, -3, -3, -3.5, -6, -6.5, -6.5, -8, -9, -6, -4.5, -8.5],
     [-5.5, -5, -5, -3.5, -3.5, -3.5, -3.5, -5, -5.5, -1, -2.5, -0.5], [-9, -9, -8.5, -8, -9, -9.5, -9.5, -10, -10, -10, -10, -10]],
    [[-5, -5, -5, -5, -4, -4, -4, -3.5, -3.5, -6.5, -2.5, -3.5], [-4, -4.5, -4.5, -4, -4, -4.5, -4.5],
     [-1, -1, -3, -2, -1.5, -1.5, -1.5, -2, 0, -1, -1, -1], [-4, -0.5, -5, -4.5, -4.5, -4, -5, -4.5, -4.5, -5.5, -4.5, -4.5],
     [-5, -5, -5, -2.5, -2, -4, -4, -5, -4.5, -4.5, -5, -5.5], [3.5, 3.5, 3.5, 3, 3, 4.5, 4.5, 4.5],
     [-4, -3, -2, -3, -2, -1.5, -1.5, -2, 2, 2, 3.5, -1, -3.5, -4.5],
     [5, 3.5, 5, 3.5, 4, 3.5, 4, 3, 4.5, 4.5, 3, 1.5, 1.5, 2, 3, 3, 2],
     [-1.5, -1.5, -1.5, -1.5, -1.5, -0.5, -1, -1, -4, -3.5, -3, -3], [-5.5, -5.5, -5, -4.5, -6, -6, -6, -6, -6, -5.5, -5.5, -5.5]],
    [[-7, -7, -6.5, -6.5, -6.5, -6.5, -6.5, -7, -7, -9, -3.5, -9.5], [-5, -2.5, -5, -6.5, -6.5, -7, -7],
     [-4.5, -5, -3, -4.5, -4, -4.5, -4, -3.5, -3.5, -4.5, -4, -4], [-2, -2, -6.5, -6, -5, -5, -7, -6, -6, -7.5, -7.5, -7],
     [-6, -6, -6, -6, -5.5, -1, -6, -6, -6, -6.5, -6.5, -7], [1, 1, 1, 1.5, 2.5, 3, 3, 4],
     [-1, 1.5, 2, -1.5, -3, -1, 1.5, 3, 3, 3, 2.5, -3, -4, -6],
     [5, 5.5, 6, 6.5, 6, 6, 6, 6, 5, 7, 7.5, 7.5, 7.5, 6.5, 7, 6.5, 7.5],
     [-1, -1, -3, -1.5, -3, -3, -1.5, -3, -4, -1, -4, -0.5], [-5, -5, -5, -5, -5, -5, -5, -5, -5, -5, -5, -5]],
    [[-4.5, -4, -4, -4, -5.5, -5.5, -5.5, -5, -1.5, -1, -1.5, -4], [-1, -1, -7, -4, -4, -4, -5.5],
     [-4, -4, -5, -3.5, -1.5, -2, -3.5, -1, -1, -1, 0, 0], [0, -2, -2, -4.5, -3, -5, -1.5, -1, 0, -4, -4, -4.5],
     [-4.5, -4.5, -4.5, -4.5, -4.5, -1.5, -5, -3, -5, -3, -5, 2], [-1, -1, -1, -1, -2, -3.5, -0.5, -1],
     [-2.5, -2, -1, -1, 3.5, 1.5, 1.5, 1.5, 1.5, 0, 7, -4, -4.5, -4.5],
     [0, 2, 3, 1, 1, -3, 1, -2, -1, -5, 4, 4, 4.5, 1.5, -1, -6, -7],
     [10, 10, 10, 10, 10, 10, 10, 10, 10, 10, 10, 10], [-5, -5.5, -3.5, -3.5, -3.5, -3.5, -7, -7, -4, -5, -6, -5]],
]
HEAT_NAMES = ["T/B cell", "Granulocyte", "Intermidiate epithelial cell", "Fibroblast", "monocyte/dendritic cell",
              "Macrophage", "Mucosal epithelial cell-PU", "Gland epithelial cell", "Mucosal epithelial cell-SU",
              "Ciliated cell"]
HEAT_NAME_COLORS = ["#0070c0", "#ff7f00", "#00b050", "#ff0000", "#cc00cc", "#c00000", "#ff00cc", "#999999", "#80c000",
                    "#00b8ff"]
GENE_BLOCKS = [
    ["CRTAM  KLRK1", "GZMA    CTSW", "CD3G    CD3E", "EPHB6   GNLY"],
    ["HBM", "HBB", "JCHAIN"],
    ["CXCR2 S100A9", "SDS      TREM1", "CSF3R  RETN", "C4BPA  ADGRE3"],
    ["RNF128 GPR31", "TNFSF15 TNF", "MX2 VCAM1", "CD80 CXCL10"],
    ["IL10 MSR1 CTSL", "MS4A7 HMOX1", "LYZ FOLR1", "CD163 CCL14"],
    ["12S rRNA", "Cox2/3", "ATP6/11A", "RN5-8S"],
    ["PHYH TSTD1", "MDK CD2AP", "ID4 KRT8 SOX17", "PLS1 LCN2 CENPF"],
    ["RBP4 LAMA3 RALGPS2", "SLC12A2 UNC5CL NMU", "MMP7 COL17A1 ITGA2", "OXT MAP1B SOD3"],
    ["TMEM212 SNTN", "MORN5 ODF3B", "FAM183A", "CFAP161 ROPN1"],
    ["PTN LRRN4CL", "C1S LRRC17", "IGFBP7 APOD", "DCN AGT SFRP2", "COL1A2/1A1/3A1"],
]

# panel C: expression level per region, 0 to 1 of the colour scale
GENES = ["CD3G", "MS4A1", "CD80", "CD163", "KRT19", "LUM", "CSF3R", "CFAP161"]
MAX_LABELS = ["4.7", "4.8", "4.6", "5.8", "7.3", "7.5", "3.3", "3.6"]
EXPRESSION = [
    {"t_up": 0.3, "t_up2": 0.5, "t_low": 0.42, "t_low2": 0.66, "t_tail": 0.8, "t_top": 0.12, "b": 0.3, "muc_low": 0.06,
     "muc_up": 0.04, "inter": 0.02},
    {"b": 0.85, "t_tail": 0.05, "muc_low": 0.02},
    {"t_up": 0.02, "t_up2": 0.09, "t_low": 0.03, "t_low2": 0.1, "t_tail": 0.12, "mono": 0.42, "mono2": 0.68, "dc": 0.36,
     "dc2": 0.58, "mac_top": 0.18, "mac_low": 0.4, "muc_up": 0.03},
    {"mac_top": 0.9, "mac_low": 0.28, "dc": 0.08, "mono": 0.01, "fibro": 0.01, "fibro2": 0.03},
    {"muc_up": 0.6, "muc_low": 0.85, "muc_su": 0.5, "muc_su2": 0.8, "gland_su": 0.25, "inter": 0.05, "inter_low": 0.12,
     "fibro": 0.08, "fibro2": 0.26, "fibro_tail": 0.2, "gland_pu": 0.15, "t_up": 0.01, "t_up2": 0.03, "t_low": 0.01,
     "t_low2": 0.03, "t_tail": 0.04, "gran": 0.01},
    {"fibro": 0.72, "fibro2": 0.9, "fibro_tail": 0.5, "muc_su": 0.1, "muc_su2": 0.1, "mac_top": 0.08, "mac_low": 0.05,
     "inter": 0.04, "inter_low": 0.05, "gland_su": 0.05, "gran": 0.01, "gran2": 0.05, "t_tail": 0.04, "t_up": 0.0,
     "t_up2": 0.03, "t_low": 0.0, "t_low2": 0.03},
    {"gran": 0.42, "gran2": 0.7, "mac_low": 0.16, "dc": 0.03, "dc2": 0.14, "muc_su": 0.02, "muc_su2": 0.15, "fibro": 0.0,
     "fibro2": 0.08, "mono": 0.0, "mono2": 0.08, "mac_top": 0.06, "gland_su": 0.02},
    {"cil": 1.0},
]
CELL_LABELS = [["T cell"], ["B cell"], ["Monocyte/", "dendritic cell"], ["Macrophage"], ["Epithelial cell"], ["Fibroblast"],
               ["Granulocyte"], ["Ciliated cell"]]


def zoom_to_px(x0, y0, w, h, zx, zy):
    return x0 + zx * w / 1568, y0 + zy * h / 1568


def axes_px(fig, left, right, top, bottom, **kw):
    return fig.add_axes([left / W, 1 - bottom / H, (right - left) / W, (bottom - top) / H], **kw)


fig = plt.figure(figsize=(W / 250, H / 250), dpi=250)
canvas = axes_px(fig, 0, W, 0, H, zorder=10)
canvas.set_xlim(0, W)
canvas.set_ylim(H, 0)
canvas.axis("off")
canvas.patch.set_alpha(0)
renderer = fig.canvas.get_renderer()


def put(x, y, s, size=13.3, color="black", ha="left", va="center", **kw):
    return canvas.text(x, y, s, fontsize=size, color=color, ha=ha, va=va, **kw)


def put_two(x, y, first, second, color, size, right=False):
    """Black number then coloured name on one baseline."""
    a = canvas.text(0, 0, first, fontsize=size, color="black", va="center_baseline")
    b = canvas.text(0, 0, second, fontsize=size, color=color, va="center_baseline")
    wa = a.get_window_extent(renderer).width
    wb = b.get_window_extent(renderer).width
    # pixel extents line up with canvas units because the canvas spans the figure
    start = x - wa - wb if right else x
    a.set_position((start, y))
    b.set_position((start + wa, y))


def number_badge(x, y, s, size=20, r=32):
    canvas.add_patch(Ellipse((x, y), 2 * r, 2.2 * r, fc="white", ec="none", alpha=0.72))
    put(x, y, s, size=size, ha="center")


# panel A
z1 = lambda zx, zy: zoom_to_px(0, 0, 1540, 1440, zx, zy)
ax = axes_px(fig, 108, 1506, 41, 1325)
for name, pts in REGIONS.items():
    arr = np.array(pts)
    ax.scatter(arr[:, 0], arr[:, 1], s=8.5, color=REGION_COLORS[name], linewidths=0)
ax.set_xlim(-53.5, 55.1)
ax.set_ylim(-54.5, 58.9)
ax.set_xticks([-50, -25, 0, 25, 50])
ax.set_yticks([-30, 0, 30])
ax.set_xticklabels(["\u221250", "\u221225", "0", "25", "50"])
ax.set_yticklabels(["\u221230", "0", "30"])
ax.tick_params(labelsize=6.5, colors="#555555", length=3, width=0.7, pad=3)
for sp in ax.spines.values():
    sp.set_color("#333333")
    sp.set_linewidth(0.9)
put(*z1(820, 1513), "TSNE.1", size=8, ha="center")
put(*z1(20, 745), "TSNE.2", size=8, ha="center", rotation=90)

for zx, zy, s, ha in [
    (360, 140, "Mucosal epithelial", "center"), (470, 203, "cell-PU", "center"), (912, 130, "Ciliated cell", "left"),
    (843, 207, "Gland epithelial  cell-PU", "left"), (1522, 425, "Mucosal epithelial", "right"),
    (1522, 487, "cell-SU", "right"), (930, 640, "Macrophage", "center"), (1338, 750, "Gland epithelial", "center"),
    (1425, 812, "cell-SU", "center"), (722, 833, "B cell", "center"), (930, 903, "Dendritic cell", "center"),
    (302, 1023, "T cell", "center"), (820, 1060, "Monocyte", "center"), (1280, 1097, "Fibroblast", "center"),
    (1000, 1372, "Granulocyte", "center"),
]:
    put(*z1(zx, zy), s, ha=ha)
for zx, zy, s in [(484, 322, "7"), (945, 363, "3"), (1132, 330, "3"), (1340, 540, "9"), (843, 555, "6"), (1345, 690, "8"),
                  (212, 833, "1"), (948, 987, "5"), (1170, 1022, "4"), (680, 1290, "2")]:
    number_badge(*z1(zx, zy), s)
put(*z1(763, 205), "8", size=20, ha="center")
put(*z1(900, 85), "10", size=20, ha="center")
canvas.add_patch(Ellipse(z1(720, 771), 76, 72, fc="none", ec="#e01010", lw=0.9, ls=(0, (1, 1))))
canvas.add_patch(Ellipse(z1(875, 132), 56, 52, fc="none", ec="#10c0f0", lw=0.9, ls=(0, (1, 1))))

# table
TX0, TX1 = 1527, 2645
for y, lw in [(44, 1.5), (149, 1.5), (1191, 1.5)]:
    canvas.plot([TX0, TX1], [y, y], color="black", lw=lw, solid_capstyle="butt")
put(1564, 104, "Cluster/Cell type", size=13, weight="bold")
put(2254, 104, "PU", size=13, weight="bold")
put(2469, 104, "SU", size=13, weight="bold")
ROW_Y = [203, 309, 413, 516, 621, 725, 829, 933, 1037, 1141]
for i, y in enumerate(ROW_Y):
    put_two(1564, y, f"{i + 1}-", CELL_TYPES[i], TABLE_COLORS[i], 13.4)
    put(2254, y, str(PU_COUNTS[i]), size=13.4)
    put(2469, y, str(SU_COUNTS[i]), size=13.4)
for y, s, c in zip([1225, 1279, 1326, 1378, 1430], LEGEND_LEFT, LEGEND_LEFT_COLORS):
    canvas.add_patch(Rectangle((1535, y - 14), 30, 28, fc=c, ec="none"))
    put(1577, y, s, size=11.7)
for y, s, c in zip([1222, 1273, 1326, 1380, 1433], LEGEND_RIGHT, LEGEND_RIGHT_COLORS):
    canvas.add_patch(Rectangle((2135, y - 14), 30, 28, fc=c, ec="none"))
    put(2181, y, s, size=11.7)

# panel D
z2 = lambda zx, zy: zoom_to_px(1500, 0, 2083, 1480, zx, zy)
for cx, cy, r, vals, cols in [(3097, 379, 303, PU_SHARE, PU_COLORS), (3092, 1107, 301, SU_SHARE, SU_COLORS)]:
    pie_ax = axes_px(fig, cx - r, cx + r, cy - r, cy + r)
    pie_ax.pie(vals, colors=cols, startangle=90, counterclock=False, radius=1.0, wedgeprops={"linewidth": 0})
    pie_ax.set_xlim(-1, 1)
    pie_ax.set_ylim(-1, 1)
PU_NUM_XY = [(1377, 408), (1196, 677), (1095, 633), (1030, 543), (995, 408), (1028, 247), (1105, 155), (1187, 108), (1203, 168)]
PU_PCT_XY = [(1489, 393), (1190, 750), (1040, 705), (958, 577), (916, 366), (964, 210), (1038, 100), (1158, 52), (1251, 55)]
SU_NUM_XY = [(1288, 925), (1402, 1220), (1221, 1450), (1026, 1320), (993, 1185), (1002, 1073), (1064, 970), (1148, 897), (1200, 905)]
SU_PCT_XY = [(1365, 880), (1487, 1190), (1252, 1515), (1010, 1447), (922, 1177), (926, 1074), (962, 980), (1007, 908), (1111, 838), (1220, 830)]
for nums, xy in [(PU_NUM, PU_NUM_XY), (SU_NUM, SU_NUM_XY)]:
    for s, (zx, zy) in zip(nums, xy):
        put(*z2(zx, zy), s, color="white", ha="center", size=14.5)
for pcts, xy in [(PU_PCT, PU_PCT_XY), (SU_PCT, SU_PCT_XY)]:
    for s, (zx, zy) in zip(pcts, xy):
        put(*z2(zx, zy), s, ha="center", size=15.5)
for zx, zy, s in [(1412, 674, "PU"), (1418, 1421, "SU")]:
    canvas.add_patch(Ellipse(z2(zx, zy), 152, 150, fc="white", ec="black", lw=1.1))
    put(*z2(zx, zy), s, ha="center", size=16)

# panel B
BLUE_RED = LinearSegmentedColormap.from_list(
    "heat",
    [(0, "#00008f"), (0.12, "#2a40c8"), (0.25, "#5a7bee"), (0.35, "#7c98f0"), (0.5, "#c0c0c0"), (0.6, "#dcb090"),
     (0.75, "#ec915a"), (0.85, "#d0452f"), (1, "#b2001a")],
)
matrix = np.array([sum(row, []) for row in HEAT_ROWS])
heat_ax = axes_px(fig, 463, 3582, 1513, 2007)
heat_ax.imshow(matrix, aspect="auto", cmap=BLUE_RED, vmin=-10, vmax=10, interpolation="nearest")
heat_ax.axis("off")
z3 = lambda zx, zy: zoom_to_px(0, 1480, 1800, 760, zx, zy)
z4 = lambda zx, zy: zoom_to_px(1780, 1480, 1803, 760, zx, zy)
for i, (name, color) in enumerate(zip(HEAT_NAMES, HEAT_NAME_COLORS)):
    put_two(459, 1513 + 49.4 * (i + 0.5), f"{i + 1}-", name, color, 9.4, right=True)

bar_ax = axes_px(fig, 23, 441, 2070, 2126)
bar_ax.imshow(np.linspace(10, -10, 256)[None, :], aspect="auto", cmap=BLUE_RED, vmin=-10, vmax=10)
bar_ax.set_xticks([])
bar_ax.set_yticks([])
for sp in bar_ax.spines.values():
    sp.set_color("#777777")
    sp.set_linewidth(0.6)
for zx, s in zip([20, 110, 200, 292, 383], ["10", "5", "0", "\u22125", "\u221210"]):
    tx, _ = z3(zx, 0)
    put(tx, 2060, s, size=4.5, color="#555555", ha="center", va="bottom", rotation=90)

LINE_X = [z3(v, 0)[0] for v in (405, 678, 837, 1117, 1389)] + [z4(v, 0)[0] for v in (117, 303, 623, 1017, 1290, 1562)]
for lx in LINE_X:
    canvas.plot([lx, lx], [2008, 2196], color="#808080", lw=0.6)
GENE_X = [z3(v, 0)[0] for v in (425, 697, 849, 1137, 1405)] + [z4(v, 0)[0] for v in (142, 333, 653, 1036, 1310)]
GENE_Y = [
    [1157, 1242, 1325, 1407], [1170, 1252, 1335], [1157, 1242, 1325, 1407], [1157, 1242, 1325, 1407], [1157, 1242, 1325, 1407],
    [1157, 1242, 1325, 1407], [1157, 1240, 1322, 1405], [1160, 1243, 1325, 1407], [1150, 1232, 1315, 1397],
    [1127, 1208, 1290, 1373, 1455],
]
for gx, ys, lines in zip(GENE_X, GENE_Y, GENE_BLOCKS):
    for zy, s in zip(ys, lines):
        put(gx, z3(0, zy)[1], s, size=9.6)

# panel C
EXPR_CMAP = LinearSegmentedColormap.from_list(
    "expr", [(0, "#cccccc"), (0.1, "#fcc5c0"), (0.4, "#f768a1"), (0.7, "#ae017e"), (1, "#49006a")]
)
z5 = lambda zx, zy: zoom_to_px(0, 2260, 1800, 740, zx, zy)
z6 = lambda zx, zy: zoom_to_px(1780, 2260, 1803, 740, zx, zy)
z7 = lambda zx, zy: zoom_to_px(0, 3000, 1800, 744, zx, zy)
z8 = lambda zx, zy: zoom_to_px(1780, 3000, 1803, 744, zx, zy)
MAP_BOX = [(130, 800, 2338, 2989), (973, 1624, 2333, 2989), (1801, 2484, 2320, 2980), (2656, 3327, 2330, 2984),
           (112, 771, 3071, 3728), (947, 1607, 3072, 3727), (1789, 2470, 3074, 3731), (2614, 3292, 3071, 3735)]
PANEL_ZOOM = [z5, z5, z6, z6, z7, z7, z8, z8]
TITLE_XY = [(493, 180), (1197, 180), (408, 185), (1127, 180), (458, 150), (1185, 175), (367, 190), (1100, 195)]
BAR_BOX = [(714, 762, 228, 1182), (1427, 1475, 238, 1190), (622, 678, 243, 1213), (1362, 1406, 240, 1188),
           (698, 746, 215, 1143), (1418, 1462, 226, 1153), (612, 656, 242, 1202), (1332, 1388, 242, 1200)]
BAR_TEXT_X = [782, 1493, 700, 1424, 765, 1480, 674, 1410]
LABEL_XY = [[(618, 1345)], [(1345, 1345)], [(575, 1285), (575, 1410)], [(1320, 1350)], [(660, 1335)], [(1362, 1335)],
            [(568, 1340)], [(1277, 1335)]]
BADGES = [[(215, 905, "1")], [(1037, 860, "1")], [(316, 1090, "5")], [(1073, 720, "6")],
          [(292, 262, "7"), (415, 330, "8"), (642, 620, "9"), (597, 825, "8")], [(1293, 1075, "4")], [(297, 1440, "2")],
          [(1063, 305, "10")]]

bands = np.linspace(0.1, 1, 30)[:, None]
for k, gene in enumerate(GENES):
    zf = PANEL_ZOOM[k]
    left, right, top, bottom = MAP_BOX[k]
    map_ax = axes_px(fig, left, right, top, bottom)
    levels = EXPRESSION[k]
    # grey cells first so the coloured ones sit on top
    for name in sorted(REGIONS, key=lambda n: levels.get(n, 0)):
        arr = np.array(REGIONS[name])
        map_ax.scatter(arr[:, 0], arr[:, 1], s=4.6, color=EXPR_CMAP(levels.get(name, 0)), linewidths=0, marker="s")
    map_ax.set_xlim(-50.5, 51)
    map_ax.set_ylim(-50, 53)
    map_ax.axis("off")

    put(*zf(*TITLE_XY[k]), f"Log$_2$ Exp-{gene}", size=14.8)
    x0, x1, y0, y1 = BAR_BOX[k]
    bl, bt = zf(x0, y0)
    br, bb = zf(x1, y1)
    cb_ax = axes_px(fig, bl, br, bt, bb)
    cb_ax.imshow(bands, aspect="auto", cmap=EXPR_CMAP, vmin=0, vmax=1, interpolation="nearest")
    cb_ax.set_xticks([])
    cb_ax.set_yticks([])
    for sp in cb_ax.spines.values():
        sp.set_color("#aaaaaa")
        sp.set_linewidth(0.5)
    put(zf(BAR_TEXT_X[k], 0)[0], zf(0, y0 + 30)[1], "0.0", size=5, color="#666666", ha="center")
    put(zf(BAR_TEXT_X[k], 0)[0], zf(0, y1 - 30)[1], MAX_LABELS[k], size=5, color="#666666", ha="center")
    for (zx, zy), s in zip(LABEL_XY[k], CELL_LABELS[k]):
        put(*zf(zx, zy), s, size=15.5, ha="center")
    for zx, zy, s in BADGES[k]:
        number_badge(*zf(zx, zy), s, size=20, r=26)

# panel letters
for x, y, s in [(24, 27, "A"), (25, 1519, "B"), (31, 2284, "C"), (2728, 28, "D")]:
    put(x, y, s, size=18, weight="bold", color="#222222", ha="center")

fig.savefig("out.png", dpi=250)
